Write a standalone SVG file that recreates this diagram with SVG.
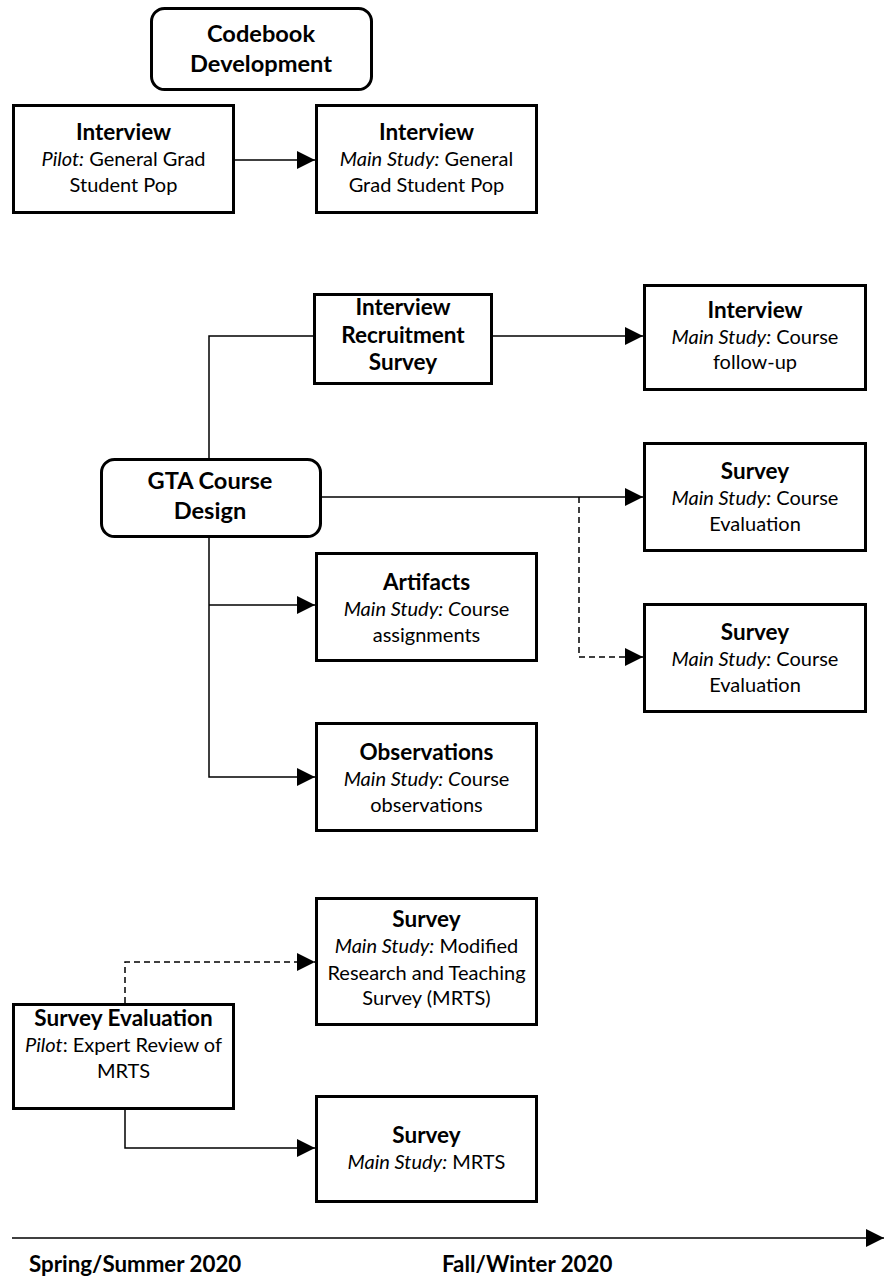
<svg xmlns="http://www.w3.org/2000/svg" width="884" height="1279" viewBox="0 0 884 1279">
  <style>
    .box { fill: #fff; stroke: #000; stroke-width: 3; }
    .t { font-family: Lato, "Liberation Sans", sans-serif; font-size: 20px; fill: #000; text-anchor: middle; }
    .h { font-weight: bold; font-size: 22.5px; }
    .big { font-size: 23.6px; font-weight: bold; }
    .i { font-style: italic; }
    .ax { font-family: Lato, "Liberation Sans", sans-serif; font-size: 22.3px; font-weight: bold; fill: #000; }
    .link { fill: none; stroke: #000; stroke-width: 1.5; }
    .dash { stroke-dasharray: 6 4; }
  </style>
  <defs>
    <marker id="arrow" viewBox="0 0 18 18" refX="18" refY="9" markerWidth="18" markerHeight="18" markerUnits="userSpaceOnUse" orient="auto">
      <path d="M0,0 L18,9 L0,18 Z" fill="#000"/>
    </marker>
  </defs>

  <rect width="884" height="1279" fill="#fff"/>

  <!-- connectors -->
  <g id="connectors">
    <path class="link" d="M235,160 H315" marker-end="url(#arrow)"/>
    <path class="link" d="M209,458 V336 H313"/>
    <path class="link" d="M493,336 H643" marker-end="url(#arrow)"/>
    <path class="link" d="M322,497 H643" marker-end="url(#arrow)"/>
    <path class="link dash" d="M579,497 V657 H643" marker-end="url(#arrow)"/>
    <path class="link" d="M209,538 V777 H315" marker-end="url(#arrow)"/>
    <path class="link" d="M209,605 H315" marker-end="url(#arrow)"/>
    <path class="link dash" d="M125,1003 V962 H315" marker-end="url(#arrow)"/>
    <path class="link" d="M125,1110 V1148 H315" marker-end="url(#arrow)"/>
    <path class="link" d="M12,1238 H884" stroke-width="1.6" marker-end="url(#arrow)"/>
  </g>

  <g id="codebook">
    <rect class="box" x="151.5" y="8.5" width="220" height="81" rx="13"/>
    <text class="t big" x="261" y="42">Codebook</text>
    <text class="t big" x="261" y="72">Development</text>
  </g>

  <g id="interview-pilot">
    <rect class="box" x="13.5" y="105.5" width="220" height="107"/>
    <text class="t h" x="123.5" y="140">Interview</text>
    <text class="t" x="123.5" y="166"><tspan class="i">Pilot:</tspan> General Grad</text>
    <text class="t" x="123.5" y="192">Student Pop</text>
  </g>

  <g id="interview-main">
    <rect class="box" x="316.5" y="105.5" width="220" height="107"/>
    <text class="t h" x="426.5" y="140">Interview</text>
    <text class="t" x="426.5" y="166"><tspan class="i">Main Study:</tspan> General</text>
    <text class="t" x="426.5" y="192">Grad Student Pop</text>
  </g>

  <g id="recruitment-survey">
    <rect class="box" x="314.5" y="294.5" width="177" height="89"/>
    <text class="t h" x="403" y="315">Interview</text>
    <text class="t h" x="403" y="343">Recruitment</text>
    <text class="t h" x="403" y="370">Survey</text>
  </g>

  <g id="interview-followup">
    <rect class="box" x="644.5" y="285.5" width="221" height="104"/>
    <text class="t h" x="755" y="318">Interview</text>
    <text class="t" x="755" y="344"><tspan class="i">Main Study:</tspan> Course</text>
    <text class="t" x="755" y="369">follow-up</text>
  </g>

  <g id="gta-course-design">
    <rect class="box" x="101.5" y="459.5" width="219" height="77" rx="13"/>
    <text class="t big" x="210" y="489">GTA Course</text>
    <text class="t big" x="210" y="519">Design</text>
  </g>

  <g id="survey-course-eval-1">
    <rect class="box" x="644.5" y="443.5" width="221" height="107"/>
    <text class="t h" x="755" y="479">Survey</text>
    <text class="t" x="755" y="505"><tspan class="i">Main Study:</tspan> Course</text>
    <text class="t" x="755" y="531">Evaluation</text>
  </g>

  <g id="survey-course-eval-2">
    <rect class="box" x="644.5" y="604.5" width="221" height="107"/>
    <text class="t h" x="755" y="640">Survey</text>
    <text class="t" x="755" y="666"><tspan class="i">Main Study:</tspan> Course</text>
    <text class="t" x="755" y="692">Evaluation</text>
  </g>

  <g id="artifacts">
    <rect class="box" x="316.5" y="553.5" width="220" height="107"/>
    <text class="t h" x="426.5" y="590">Artifacts</text>
    <text class="t" x="426.5" y="616"><tspan class="i">Main Study: C</tspan>ourse</text>
    <text class="t" x="426.5" y="642">assignments</text>
  </g>

  <g id="observations">
    <rect class="box" x="316.5" y="723.5" width="220" height="107"/>
    <text class="t h" x="426.5" y="760">Observations</text>
    <text class="t" x="426.5" y="786"><tspan class="i">Main Study: C</tspan>ourse</text>
    <text class="t" x="426.5" y="812">observations</text>
  </g>

  <g id="survey-mrts-modified">
    <rect class="box" x="316.5" y="898.5" width="220" height="126"/>
    <text class="t h" x="426.5" y="927">Survey</text>
    <text class="t" x="426.5" y="953"><tspan class="i">Main Study:</tspan> Modified</text>
    <text class="t" x="426.5" y="980">Research and Teaching</text>
    <text class="t" x="426.5" y="1005">Survey (MRTS)</text>
  </g>

  <g id="survey-evaluation">
    <rect class="box" x="13.5" y="1004.5" width="220" height="104"/>
    <text class="t h" x="123.5" y="1026">Survey Evaluation</text>
    <text class="t" x="123.5" y="1052"><tspan class="i">Pilot</tspan>: Expert Review of</text>
    <text class="t" x="123.5" y="1078">MRTS</text>
  </g>

  <g id="survey-mrts">
    <rect class="box" x="316.5" y="1096.5" width="220" height="105"/>
    <text class="t h" x="426.5" y="1143">Survey</text>
    <text class="t" x="426.5" y="1169"><tspan class="i">Main Study:</tspan> MRTS</text>
  </g>

  <g id="timeline-labels">
    <text class="ax" x="29" y="1272">Spring/Summer 2020</text>
    <text class="ax" x="442" y="1272">Fall/Winter 2020</text>
  </g>
</svg>
